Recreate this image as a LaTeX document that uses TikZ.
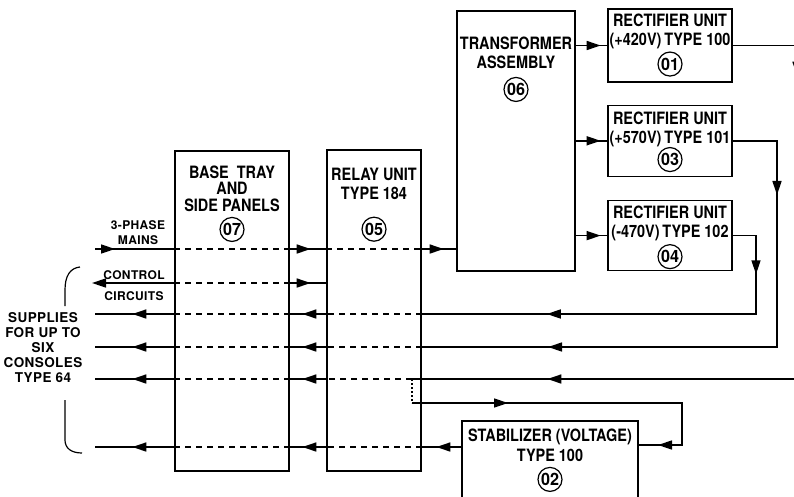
\documentclass[tikz,border=0pt]{standalone}
\usepackage{fontspec}
\setmainfont{TeX Gyre Heros}
\newfontfamily\unitfont[FakeStretch=0.85]{TeX Gyre Heros}
\newfontfamily\reffont[FakeStretch=0.95]{TeX Gyre Heros}
\newfontfamily\notefont[LetterSpace=3]{TeX Gyre Heros}
\usetikzlibrary{arrows.meta, positioning, calc, decorations.markings}

\begin{document}
\begin{tikzpicture}[x=1pt, y=-1pt, >={Triangle[length=14pt,width=9pt]}]
\tikzstyle{unit} = [rectangle, draw, line width=1.3pt, inner sep=0pt]
\tikzstyle{unittext} = [font=\unitfont\bfseries\fontsize{17}{19}\selectfont, align=center, inner sep=0pt]
\tikzstyle{ref} = [circle, draw, line width=1.2pt, minimum size=24pt, inner sep=0pt, font=\reffont\bfseries\fontsize{17}{17}\selectfont]
\tikzstyle{note} = [font=\notefont\bfseries\fontsize{12}{15}\selectfont, align=center, inner sep=0pt]
\tikzstyle{sig} = [draw, line width=1.6pt]
\tikzstyle{inside} = [draw, line width=1.4pt, dash pattern=on 6pt off 5pt]
\tikzset{midtip/.style={postaction={decorate, decoration={markings, mark=at position #1 with {\arrow{Triangle[length=14pt,width=9pt]}}}}}}

\useasboundingbox (0,0) rectangle (794,496);
\clip (0,0) rectangle (794,496);

% units
\node (base) [unit, minimum width=114pt, minimum height=320pt] at (232,311) {};
\node (relay) [unit, minimum width=94pt, minimum height=321pt] at (374,310.5) {};
\node (trans) [unit, minimum width=118pt, minimum height=260pt] at (516,141) {};
\node (rect01) [unit, minimum width=124pt, minimum height=73pt] at (670,45.5) {};
\node (rect03) [unit, minimum width=124pt, minimum height=71pt, below=22pt of rect01] {};
\node (rect04) [unit, minimum width=124pt, minimum height=70pt, below=23pt of rect03] {};
\node (stab) [unit, minimum width=176pt, minimum height=89pt] at (550,465.5) {};

\node (basetxt) [unittext, font=\unitfont\bfseries\fontsize{17}{16.5}\selectfont, below=14.9pt of base.north] {BASE\ \ TRAY\\AND\\SIDE PANELS};
\node (n07) [ref, below=5.4pt of basetxt] {07};
\node (relaytxt) [unittext, below=18.9pt of relay.north] {RELAY UNIT\\TYPE 184};
\node (n05) [ref, below=16.4pt of relaytxt] {05};
\node (transtxt) [unittext, below=25.9pt of trans.north] {TRANSFORMER\\ASSEMBLY};
\node (n06) [ref, below=8.4pt of transtxt] {06};
\node (txt01) [unittext, below=4.9pt of rect01.north] {RECTIFIER UNIT\\(+420V)\,TYPE 100};
\node (n01) [ref, below=2.8pt of txt01] {01};
\node (txt03) [unittext, below=6.9pt of rect03.north] {RECTIFIER UNIT\\(+570V)\,TYPE 101};
\node (n03) [ref, below=0pt of txt03] {03};
\node (txt04) [unittext, below=5.9pt of rect04.north] {RECTIFIER UNIT\\(-470V)\,TYPE 102};
\node (n04) [ref, below=2.8pt of txt04] {04};
\node (stabtxt) [unittext, font=\unitfont\bfseries\fontsize{17}{20}\selectfont, below=7.9pt of stab.north] {STABILIZER (VOLTAGE)\\TYPE 100};
\node (n02) [ref, below=5.4pt of stabtxt] {02};

% left side labels
\node (mainslbl) [note] at (138,232.5) {3-PHASE\\MAINS};
\node (ctrllbl) [note] at (134,275) {CONTROL};
\node (circlbl) [note] at (134,296) {CIRCUITS};
\node (supplbl) [note, font=\notefont\bfseries\fontsize{13.5}{15}\selectfont] at (43,348) {SUPPLIES\\FOR UP TO\\SIX\\CONSOLES\\TYPE 64};
\draw [line width=1.2pt] (80,267) .. controls (70,268) and (65,276) .. (65,290) -- (65,306);
\draw [line width=1.2pt] (65,400) -- (65,440) .. controls (65,448) and (71,453) .. (82,453);

% free ends and bends
\coordinate (mainsin) at (95,249);
\coordinate (ctrlout) at (92,283);
\coordinate (sup1) at (95,314);
\coordinate (sup2) at (95,347);
\coordinate (sup3) at (95,379);
\coordinate (sup4) at (95,447);
\coordinate (drop04) at (756,0);
\coordinate (drop03) at (777,0);
\coordinate (drop01) at (797,0);
\coordinate (tap) at (412,379);
\coordinate (tapdown) at (412,403);
\coordinate (loop) at (682,445);

% mains in
\draw [sig, midtip=20pt] (mainsin) -- (mainsin -| base.west);
\draw [inside] (mainsin -| base.west) -- (mainsin -| base.east);
\draw [sig, midtip=21pt] (mainsin -| base.east) -- (mainsin -| relay.west);
\draw [inside] (mainsin -| relay.west) -- (mainsin -| relay.east);
\draw [sig, midtip=22pt] (mainsin -| relay.east) -- (mainsin -| trans.west);

% control circuits
\draw [sig, ->] (ctrlout -| base.west) -- (ctrlout);
\draw [inside] (ctrlout -| base.west) -- (ctrlout -| base.east);
\draw [sig, midtip=21pt] (ctrlout -| base.east) -- (ctrlout -| relay.west);

% transformer to rectifiers
\draw [sig, midtip=25pt] (rect01.west -| trans.east) -- (rect01.west);
\draw [sig, midtip=25pt] (rect03.west -| trans.east) -- (rect03.west);
\draw [sig, midtip=25pt] (rect04.west -| trans.east) -- (rect04.west);

% rectifier outputs
\draw [sig, midtip=62pt, midtip=311pt] (rect04.east) -| (sup1 -| drop04) -- (sup1 -| relay.east);
\draw [sig, midtip=98.5pt, midtip=479.5pt] (rect03.east) -| (sup2 -| drop03) -- (sup2 -| relay.east);
\draw [sig, midtip=94.5pt, midtip=647.5pt] (rect01.east) -| (sup3 -| drop01) -- (tap);

% stabilizer loop
\draw [line width=1.4pt, dash pattern=on 2pt off 2pt] (tap) -- (tapdown);
\draw [sig, midtip=96pt, midtip=336pt] (tapdown) -| (loop) -- (loop -| stab.east);
\draw [sig, midtip=25pt] (sup4 -| stab.west) -- (sup4 -| relay.east);

% supplies to consoles
\draw [inside] (sup1 -| relay.east) -- (sup1 -| relay.west);
\draw [sig, midtip=24pt] (sup1 -| relay.west) -- (sup1 -| base.east);
\draw [inside] (sup1 -| base.east) -- (sup1 -| base.west);
\draw [sig, midtip=42pt] (sup1 -| base.west) -- (sup1);

\draw [inside] (sup2 -| relay.east) -- (sup2 -| relay.west);
\draw [sig, midtip=24pt] (sup2 -| relay.west) -- (sup2 -| base.east);
\draw [inside] (sup2 -| base.east) -- (sup2 -| base.west);
\draw [sig, midtip=42pt] (sup2 -| base.west) -- (sup2);

\draw [inside] (tap) -- (sup3 -| relay.west);
\draw [sig, midtip=24pt] (sup3 -| relay.west) -- (sup3 -| base.east);
\draw [inside] (sup3 -| base.east) -- (sup3 -| base.west);
\draw [sig, midtip=42pt] (sup3 -| base.west) -- (sup3);

\draw [inside] (sup4 -| relay.east) -- (sup4 -| relay.west);
\draw [sig, midtip=24pt] (sup4 -| relay.west) -- (sup4 -| base.east);
\draw [inside] (sup4 -| base.east) -- (sup4 -| base.west);
\draw [sig, midtip=42pt] (sup4 -| base.west) -- (sup4);
\end{tikzpicture}
\end{document}
